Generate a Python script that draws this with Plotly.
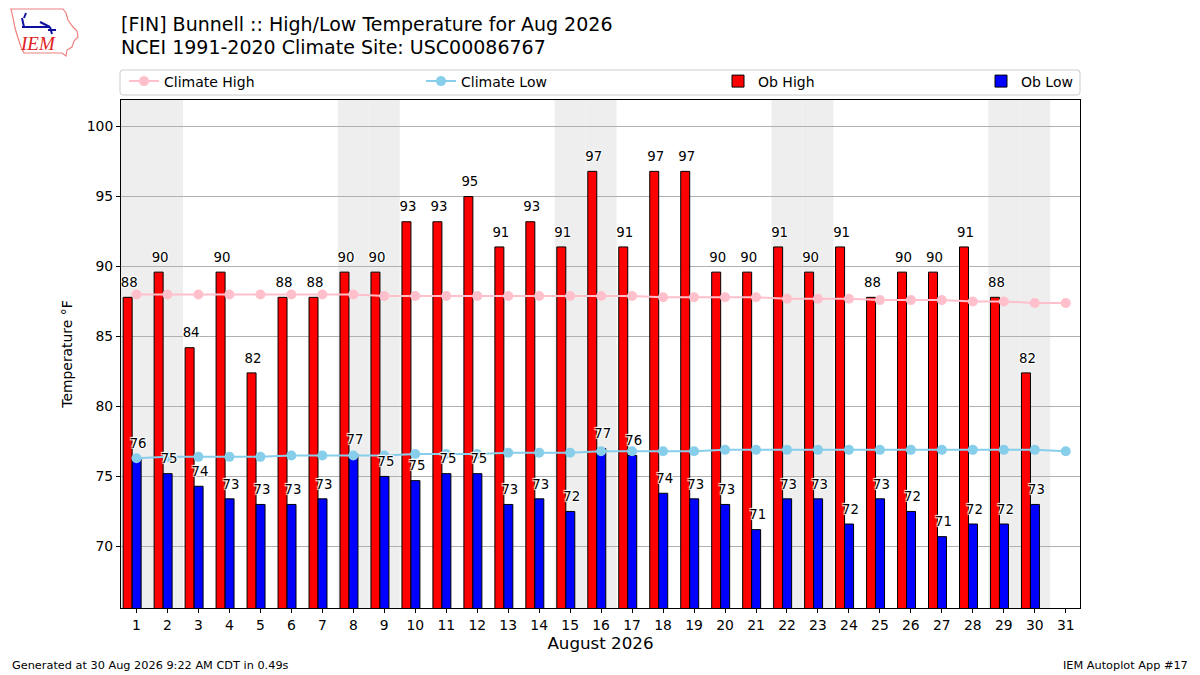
import plotly.graph_objects as go
import datetime

# ---------------- data ----------------
year, month = 2026, 8
days = list(range(1, 32))
ob_high = [87.8, 89.6, 84.2, 89.6, 82.4, 87.8, 87.8, 89.6, 89.6, 93.2,
           93.2, 95.0, 91.4, 93.2, 91.4, 96.8, 91.4, 96.8, 96.8, 89.6,
           89.6, 91.4, 89.6, 91.4, 87.8, 89.6, 89.6, 91.4, 87.8, 82.4]
ob_low = [76.3, 75.2, 74.3, 73.4, 73.0, 73.0, 73.4, 76.6, 75.0, 74.7,
          75.2, 75.2, 73.0, 73.4, 72.5, 77.0, 76.5, 73.8, 73.4, 73.0,
          71.2, 73.4, 73.4, 71.6, 73.4, 72.5, 70.7, 71.6, 71.6, 73.0]
climate_high = [88.0, 88.0, 88.0, 88.0, 88.0, 88.0, 88.0, 88.0, 87.9, 87.9,
                87.9, 87.9, 87.9, 87.9, 87.9, 87.9, 87.9, 87.8, 87.8, 87.8,
                87.8, 87.7, 87.7, 87.7, 87.6, 87.6, 87.6, 87.5, 87.5, 87.4,
                87.4]
climate_low = [76.3, 76.4, 76.4, 76.4, 76.4, 76.5, 76.5, 76.5, 76.5, 76.6,
               76.6, 76.6, 76.7, 76.7, 76.7, 76.8, 76.8, 76.8, 76.8, 76.9,
               76.9, 76.9, 76.9, 76.9, 76.9, 76.9, 76.9, 76.9, 76.9, 76.9,
               76.8]
y_ticks = [70, 75, 80, 85, 90, 95, 100]

title_lines = ["[FIN] Bunnell :: High/Low Temperature for Aug 2026",
               "NCEI 1991-2020 Climate Site: USC00086767"]
footer_left = "Generated at 30 Aug 2026 9:22 AM CDT in 0.49s"
footer_right = "IEM Autoplot App #17"

# ---------------- layout helpers ----------------
# The page body has an 8px margin, so the figure is drawn 8px smaller and
# every reference window coordinate is shifted by OFF.
OFF = 8
WIN_W, WIN_H = 1200, 675
W, H = WIN_W - OFF, WIN_H - OFF
PL, PR, PT, PB = 121, 1080, 100, 608        # plot box in window pixels
L, R, T, B = PL - OFF, WIN_W - PR, PT - OFF, WIN_H - PB
FONT = "DejaVu Sans"


def px(x):
    return (x - PL) / (PR - PL)


def py(y):
    return (PB - y) / (PB - PT)


bar_w = 0.29
hi_off = -0.43
lo_off = -0.14
obs_days = days[:len(ob_high)]

fig = go.Figure()

fig.add_trace(go.Bar(
    x=obs_days, y=ob_high, width=bar_w, offset=hi_off, name="Ob High",
    marker=dict(color="red", line=dict(color="black", width=1)),
    legendrank=3, hoverinfo="x+y"))
fig.add_trace(go.Bar(
    x=obs_days, y=ob_low, width=bar_w, offset=lo_off, name="Ob Low",
    marker=dict(color="blue", line=dict(color="black", width=1)),
    legend="legend2", hoverinfo="x+y"))

fig.add_trace(go.Scatter(
    x=days, y=climate_high, mode="lines+markers", name="Climate High",
    line=dict(color="pink", width=2), marker=dict(color="pink", size=10),
    legendrank=1))
fig.add_trace(go.Scatter(
    x=days, y=climate_low, mode="lines+markers", name="Climate Low",
    line=dict(color="skyblue", width=2), marker=dict(color="skyblue", size=10),
    legendrank=2))

halo = "1px 1px 1px white, -1px -1px 1px white, 1px -1px 1px white, -1px 1px 1px white"
for vals, off in ((ob_high, hi_off), (ob_low, lo_off)):
    fig.add_trace(go.Scatter(
        x=[d + off - 0.08 for d in obs_days], y=[v + 0.5 for v in vals],
        mode="text", text=[f"{v:.0f}" for v in vals],
        textposition="top right",
        textfont=dict(family=FONT, size=13.3, color="black", shadow=halo),
        showlegend=False, hoverinfo="skip"))

# weekend shading
shapes = []
for d in days:
    wd = datetime.date(year, month, d).weekday()
    if wd >= 5:
        shapes.append(dict(type="rect", xref="x", yref="paper",
                           x0=d - 0.5, x1=d + 0.5, y0=0, y1=1,
                           fillcolor="#eeeeee", line=dict(width=0),
                           layer="below"))


def path(points, close=True):
    s = "M " + " L ".join(f"{px(x):.5f},{py(y):.5f}" for x, y in points)
    return s + (" Z" if close else "")


# legend frame (spans the plot width like the reference)
fx0, fx1, fy0, fy1, rr = 120, 1080, 70, 95, 3
frame = (f"M {px(fx0 + rr):.5f},{py(fy0):.5f} L {px(fx1 - rr):.5f},{py(fy0):.5f} "
         f"Q {px(fx1):.5f},{py(fy0):.5f} {px(fx1):.5f},{py(fy0 + rr):.5f} "
         f"L {px(fx1):.5f},{py(fy1 - rr):.5f} "
         f"Q {px(fx1):.5f},{py(fy1):.5f} {px(fx1 - rr):.5f},{py(fy1):.5f} "
         f"L {px(fx0 + rr):.5f},{py(fy1):.5f} "
         f"Q {px(fx0):.5f},{py(fy1):.5f} {px(fx0):.5f},{py(fy1 - rr):.5f} "
         f"L {px(fx0):.5f},{py(fy0 + rr):.5f} "
         f"Q {px(fx0):.5f},{py(fy0):.5f} {px(fx0 + rr):.5f},{py(fy0):.5f} Z")
shapes.append(dict(type="path", xref="paper", yref="paper", path=frame,
                   line=dict(color="#cccccc", width=1), fillcolor="white",
                   layer="below"))

# IEM logo (decorative)
iowa = [(11, 9), (63, 9), (66, 13), (68, 20), (73, 27), (77, 31), (78, 37),
        (74, 41), (72, 47), (67, 50), (66, 56), (62, 53), (24, 53), (21, 47),
        (18, 38), (15, 28), (13, 18)]
shapes.append(dict(type="path", xref="paper", yref="paper", path=path(iowa),
                   line=dict(color="#f08080", width=1.2), fillcolor="rgba(0,0,0,0)"))
for seg in ([(22, 27), (50, 27)], [(40, 22), (50, 27)], [(50, 27), (52, 34)],
            [(22, 18), (24, 27)], [(26, 13), (24, 18)], [(48, 30), (56, 30)]):
    shapes.append(dict(type="line", xref="paper", yref="paper",
                       x0=px(seg[0][0]), y0=py(seg[0][1]),
                       x1=px(seg[1][0]), y1=py(seg[1][1]),
                       line=dict(color="#1010a0", width=2)))

annotations = [
    dict(text="<i>IEM</i>", xref="paper", yref="paper", x=px(38), y=py(44),
         showarrow=False, font=dict(family="Liberation Serif", size=19, color="#e02020"),
         xanchor="center", yanchor="middle"),
    dict(text=title_lines[0], xref="paper", yref="paper", x=px(119), y=py(24),
         showarrow=False, font=dict(family=FONT, size=19, color="black"),
         xanchor="left", yanchor="middle"),
    dict(text=title_lines[1], xref="paper", yref="paper", x=px(119), y=py(47),
         showarrow=False, font=dict(family=FONT, size=19, color="black"),
         xanchor="left", yanchor="middle"),
    dict(text=footer_left, xref="paper", yref="paper", x=px(10), y=py(665),
         showarrow=False, font=dict(family=FONT, size=11.3, color="black"),
         xanchor="left", yanchor="middle"),
    dict(text=footer_right, xref="paper", yref="paper", x=px(1190), y=py(665),
         showarrow=False, font=dict(family=FONT, size=11.3, color="black"),
         xanchor="right", yanchor="middle"),
]

legend_common = dict(orientation="h", xanchor="left", yanchor="top",
                     bgcolor="rgba(0,0,0,0)", borderwidth=0,
                     font=dict(family=FONT, size=14), traceorder="normal")

fig.update_layout(
    width=W, height=H,
    margin=dict(l=L, r=R, t=T, b=B, pad=0),
    paper_bgcolor="white", plot_bgcolor="white",
    font=dict(family=FONT, size=13.9, color="black"),
    barmode="overlay",
    legend=dict(x=px(124), y=py(65.5), entrywidth=252, entrywidthmode="pixels",
                **legend_common),
    legend2=dict(x=px(981), y=py(65.5), **legend_common),
    xaxis=dict(range=[0.5, 31.46], tickvals=days, ticktext=[str(d) for d in days],
               showgrid=False, zeroline=False, showline=True, linecolor="black",
               linewidth=1, mirror=True, ticks="outside", ticklen=4,
               tickcolor="black", tickfont=dict(size=13.9),
               title=dict(text="August 2026", font=dict(size=16.7), standoff=5)),
    yaxis=dict(range=[65.6, 101.9], tickvals=y_ticks,
               showgrid=True, gridcolor="#b0b0b0", gridwidth=1, zeroline=False,
               showline=True, linecolor="black", linewidth=1, mirror=True,
               ticks="outside", ticklen=4, tickcolor="black",
               tickfont=dict(size=13.9),
               title=dict(text="Temperature °F", font=dict(size=13.9), standoff=10)),
    shapes=shapes,
    annotations=annotations,
    showlegend=True,
)

fig.write_html("out.html")
